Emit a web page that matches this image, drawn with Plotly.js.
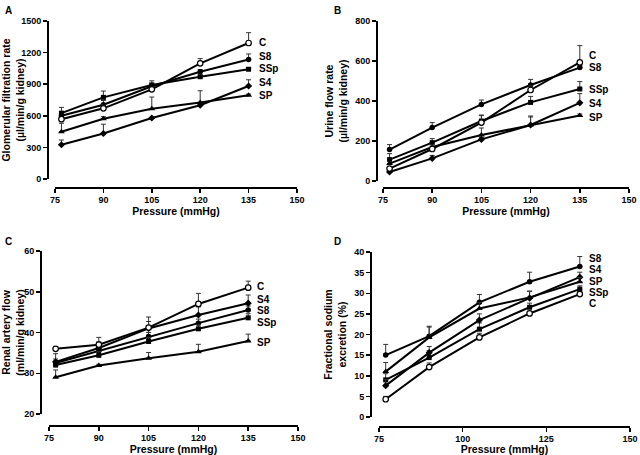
<!DOCTYPE html>
<html>
<head>
<meta charset="utf-8">
<script src="https://cdn.plot.ly/plotly-3.0.1.min.js"></script>
<style>
  html, body { margin: 0; padding: 0; background: #fff; }
  #chart { width: 640px; height: 455px; }
</style>
</head>
<body>
<div id="chart"></div>
<script>
// Pressure steps (mmHg)
const pressure = [77, 90, 105, 120, 135];
const groups = ['C', 'S8', 'SSp', 'S4', 'SP'];

// A: glomerular filtration rate (µl/min/g kidney)
const gfrC   = [568, 671, 851, 1098, 1291];
const gfrS8  = [600, 705, 880, 1019, 1134];
const gfrSSp = [625, 775, 892, 971, 1042];
const gfrS4  = [325, 432, 579, 700, 883];
const gfrSP  = [449, 572, 667, 726, 796];
const gfrErrC   = [15, 30, 25, 45, 98];
const gfrErrS8  = [40, 40, 30, 20, 53];
const gfrErrSSp = [55, 60, 40, 15, 15];
const gfrErrS4  = [45, 88, 0, 20, 59];
const gfrErrSP  = [80, 20, 111, 112, 10];

// B: urine flow rate (µl/min/g kidney)
const ufrC   = [62, 160, 292, 455, 593];
const ufrS8  = [157, 267, 383, 480, 567];
const ufrSSp = [107, 192, 300, 393, 460];
const ufrS4  = [45, 113, 208, 280, 391];
const ufrSP  = [87, 170, 230, 280, 327];
const ufrErrC   = [10, 15, 35, 20, 84];
const ufrErrS8  = [25, 25, 22, 28, 10];
const ufrErrSSp = [30, 20, 30, 30, 37];
const ufrErrS4  = [8, 15, 10, 45, 46];
const ufrErrSP  = [10, 12, 35, 40, 8];

// C: renal artery flow (ml/min/g kidney)
const rafC   = [36.0, 37.0, 41.2, 47.0, 51.0];
const rafS8  = [32.5, 35.5, 39.0, 42.3, 45.5];
const rafSSp = [32.0, 34.4, 37.8, 40.9, 43.6];
const rafS4  = [32.8, 36.2, 41.0, 44.3, 47.2];
const rafSP  = [29.0, 31.9, 33.7, 35.3, 37.9];
const rafErrC   = [0.5, 1.8, 1.5, 2.6, 1.6];
const rafErrS8  = [1.0, 1.0, 1.0, 1.0, 1.0];
const rafErrSSp = [1.0, 1.0, 1.0, 1.0, 1.0];
const rafErrS4  = [2.0, 1.5, 2.8, 2.0, 2.0];
const rafErrSP  = [1.8, 0.3, 1.4, 1.8, 1.7];

// D: fractional sodium excretion (%)
const fenaC   = [4.3, 12.1, 19.3, 25.1, 29.8];
const fenaS8  = [15.0, 19.6, 27.8, 32.8, 36.5];
const fenaSSp = [9.0, 14.4, 21.3, 26.6, 31.0];
const fenaS4  = [7.6, 15.6, 23.5, 28.8, 33.9];
const fenaSP  = [11.0, 19.3, 26.3, 29.0, 32.8];
const fenaErrC   = [0.7, 1.0, 1.0, 0.5, 0.5];
const fenaErrS8  = [2.6, 2.4, 1.9, 2.3, 2.4];
const fenaErrSSp = [1.5, 1.7, 1.5, 1.0, 0.8];
const fenaErrS4  = [1.5, 1.5, 1.5, 1.7, 1.2];
const fenaErrSP  = [2.2, 2.5, 1.5, 1.5, 1.0];

const FONT = 'Liberation Sans, Arial, Helvetica, sans-serif';

// marker look per group
const markers = {
  C:   { symbol: 'circle', size: 5.5, color: '#fff', line: { color: '#000', width: 1.2 } },
  S8:  { symbol: 'circle', size: 5.5, color: '#000' },
  SSp: { symbol: 'square', size: 5, color: '#000' },
  S4:  { symbol: 'diamond', size: 5.5, color: '#000' },
  SP:  { symbol: 'triangle-up', size: 6, color: '#000' }
};

// group labels sit just right of the 135 mmHg points, nudged apart so they don't collide
const panels = [
  { x: 'x', y: 'y', series: [gfrC, gfrS8, gfrSSp, gfrS4, gfrSP],
    errs: [gfrErrC, gfrErrS8, gfrErrSSp, gfrErrS4, gfrErrSP],
    labelX: 138, labelY: [1294, 1166, 1049, 912, 793] },
  { x: 'x2', y: 'y2', series: [ufrC, ufrS8, ufrSSp, ufrS4, ufrSP],
    errs: [ufrErrC, ufrErrS8, ufrErrSSp, ufrErrS4, ufrErrSP],
    labelX: 137.5, labelY: [626, 566, 460, 388, 318] },
  { x: 'x3', y: 'y3', series: [rafC, rafS8, rafSSp, rafS4, rafSP],
    errs: [rafErrC, rafErrS8, rafErrSSp, rafErrS4, rafErrSP],
    labelX: 137.4, labelY: [51.4, 45.3, 42.5, 48.1, 37.6] },
  { x: 'x4', y: 'y4', series: [fenaC, fenaS8, fenaSSp, fenaS4, fenaSP],
    errs: [fenaErrC, fenaErrS8, fenaErrSSp, fenaErrS4, fenaErrSP],
    labelX: 137.5, labelY: [27.4, 38.5, 30.1, 35.7, 32.9] }
];

const data = [];
const annotations = [];

panels.forEach(function(p) {
  // draw filled ones first, open circle (C) last so it stays on top
  const order = [1, 2, 3, 4, 0];
  order.forEach(function(i) {
    const g = groups[i];
    data.push({
      x: pressure,
      y: p.series[i],
      xaxis: p.x,
      yaxis: p.y,
      type: 'scatter',
      mode: 'lines+markers',
      name: g,
      showlegend: false,
      line: { color: '#000', width: 2 },
      marker: markers[g],
      error_y: {
        type: 'data',
        symmetric: false,
        array: p.errs[i],
        arrayminus: p.errs[i].map(() => 0),
        color: '#333',
        thickness: 1,
        width: 2.5
      }
    });
    annotations.push({
      xref: p.x, yref: p.y,
      x: p.labelX, y: p.labelY[i],
      xanchor: 'left', yanchor: 'middle',
      text: g, showarrow: false, borderpad: 0,
      font: { family: FONT, size: 10, color: '#000', weight: 'bold' }
    });
  });
});

// panel letters
[['A', 3, 452], ['B', 332, 452], ['C', 3, 221], ['D', 332, 221]].forEach(function(l) {
  annotations.push({
    xref: 'paper', yref: 'paper',
    x: l[1] / 640, y: l[2] / 455,
    xanchor: 'left', yanchor: 'top',
    text: l[0], showarrow: false,
    font: { family: FONT, size: 10, color: '#000', weight: 'bold' }
  });
});

function xAxis(domain, pos, dtick) {
  return {
    domain: domain, anchor: 'free', position: pos,
    range: [75, 150], tick0: 75, dtick: dtick,
    ticks: 'outside', ticklen: 4, tickwidth: 1.5, tickcolor: '#000',
    showline: true, linewidth: 1.5, linecolor: '#000',
    showgrid: false, zeroline: false,
    tickfont: { family: FONT, size: 9, color: '#000', weight: 'bold' },
    title: { text: 'Pressure (mmHg)', standoff: 3,
             font: { family: FONT, size: 10.5, color: '#000', weight: 'bold' } }
  };
}

function yAxis(domain, pos, range, dtick, title) {
  return {
    domain: domain, anchor: 'free', position: pos,
    range: range, tick0: range[0], dtick: dtick,
    ticks: 'outside', ticklen: 4, tickwidth: 1.5, tickcolor: '#000',
    showline: true, linewidth: 1.5, linecolor: '#000',
    showgrid: false, zeroline: false,
    tickfont: { family: FONT, size: 9, color: '#000', weight: 'bold' },
    title: { text: title, standoff: 4,
             font: { family: FONT, size: 10.5, color: '#000', weight: 'bold' } }
  };
}

const layout = {
  width: 640, height: 455,
  margin: { l: 0, r: 0, t: 0, b: 0 },
  paper_bgcolor: '#fff', plot_bgcolor: '#fff',
  showlegend: false,
  font: { family: FONT, color: '#000' },
  xaxis:  xAxis([55 / 640, 297 / 640], 1 - 187 / 455, 15),
  yaxis:  yAxis([1 - 179 / 455, 1 - 21 / 455], 47 / 640, [0, 1500], 300,
                'Glomerular filtration rate<br>(µl/min/g kidney)'),
  xaxis2: xAxis([383 / 640, 629 / 640], 1 - 187 / 455, 15),
  yaxis2: yAxis([1 - 181 / 455, 1 - 21 / 455], 376 / 640, [0, 800], 200,
                'Urine flow rate<br>(µl/min/g kidney)'),
  xaxis3: xAxis([49 / 640, 298 / 640], 1 - 425 / 455, 15),
  yaxis3: yAxis([1 - 414 / 455, 1 - 251 / 455], 40 / 640, [20, 60], 10,
                'Renal artery flow<br>(ml/min/g kidney)'),
  xaxis4: xAxis([379 / 640, 630 / 640], 1 - 426 / 455, 25),
  yaxis4: yAxis([1 - 417 / 455, 1 - 252 / 455], 370 / 640, [0, 40], 5,
                'Fractional sodium<br>excretion (%)'),
  annotations: annotations
};

Plotly.newPlot('chart', data, layout, { displayModeBar: false, staticPlot: true });
</script>
</body>
</html>
